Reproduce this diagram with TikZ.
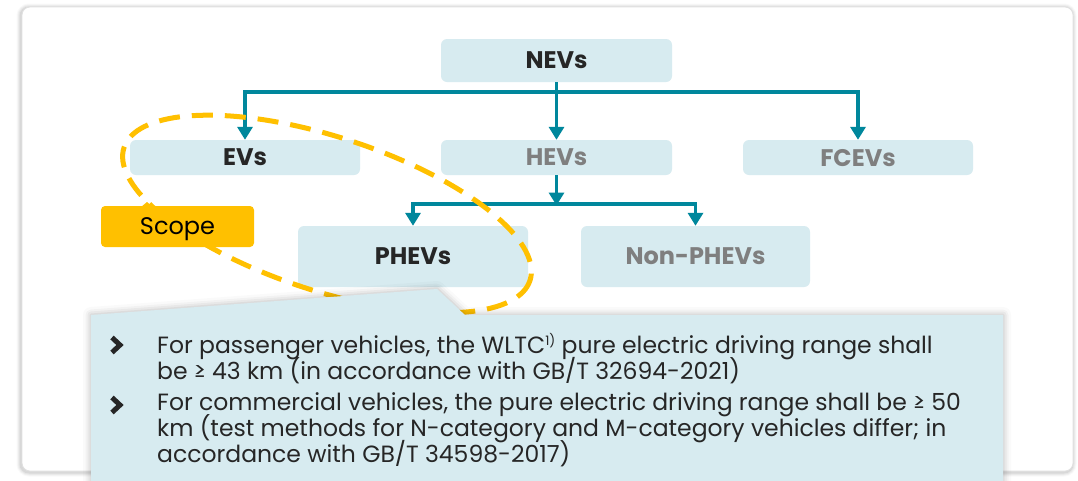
\documentclass[tikz,border=0pt]{standalone}
\usepackage{fontspec}
\setmainfont{Poppins}
\usetikzlibrary{arrows.meta}
\definecolor{boxblue}{HTML}{D7EBF0}
\definecolor{arrteal}{HTML}{00879C}
\definecolor{scopeor}{HTML}{FFC000}
\definecolor{txtdark}{HTML}{262626}
\definecolor{txtgrey}{HTML}{7F7F7F}
\newcommand\mytightlines{\setlength{\lineskiplimit}{-30pt}\setlength{\lineskip}{0pt}}
\tikzset{
  box/.style={fill=boxblue, rounded corners=6pt, inner sep=0pt, text depth=0pt, font=\fontsize{24}{28}\selectfont\bfseries},
  conn/.style={draw=arrteal, line width=3.5pt},
  arr/.style={conn, -{Triangle[width=15pt,length=13pt]}},
  chev/.style={draw=txtdark, line width=5pt},
  bullettext/.style={anchor=base west, align=left, inner sep=0pt, text=txtdark, font=\fontsize{23.5}{26}\selectfont\mytightlines},
}
\begin{document}
\begin{tikzpicture}[x=1pt,y=-1pt]
\useasboundingbox (0,0) rectangle (1078,480);
% outer frame with soft shadow
\foreach \w/\o in {9/0.025,7/0.035,5/0.045,3/0.06}
  \draw[black, opacity=\o, line width=\w pt, rounded corners=8pt] (21,8) rectangle (1072,472);
\draw[fill=white, draw=black!12, line width=0.8pt, rounded corners=8pt] (22,7) rectangle (1073,471);

% boxes
\node[box, minimum width=231pt, minimum height=43pt, text=txtdark] (nev) at (556.5,60.5) {NEVs};
\node[box, minimum width=230pt, minimum height=35pt, text=txtdark] (ev) at (245,157.5) {EVs};
\node[box, minimum width=231pt, minimum height=35pt, text=txtgrey] (hev) at (556.5,157.5) {HEVs};
\node[box, minimum width=230pt, minimum height=35pt, text=txtgrey] (fcev) at (858,157.5) {FCEVs};
\node[box, minimum width=230pt, minimum height=61pt, text=txtdark] (phev) at (413,256.5) {PHEVs};
\node[box, minimum width=229pt, minimum height=61pt, text=txtgrey] (nonphev) at (695.5,256.5) {Non-PHEVs};

% connectors
\coordinate (j1) at (556.5,92);
\coordinate (j2) at (556.5,204);
\draw[arr] (nev.south) -- (hev.north);
\draw[arr] (j1) -| (ev.north);
\draw[arr] (j1) -| (fcev.north);
\draw[arr] (hev.south) -- ([yshift=-1.5pt]j2);
\draw[arr] (j2) -| (phev.north);
\draw[arr] (j2) -| (nonphev.north);

% scope ellipse
\draw[scopeor, line width=5pt, dash pattern=on 21pt off 12pt]
  plot[domain=0:360, samples=145, variable=\t]
  ({327+203*cos(\t)-23.8*sin(\t)},{214+66.4*cos(\t)+73.2*sin(\t)});

% scope label
\node[fill=scopeor, rounded corners=4pt, minimum width=153pt, minimum height=41pt, inner sep=0pt, text depth=0pt,
      font=\fontsize{24}{28}\selectfont, text=black] (scope) at (177.5,226.5) {Scope};
\fill[scopeor] (141,207) -- (147,202) -- (153,207) -- cycle;

% callout
\foreach \w/\o in {16/0.02,11/0.03,7/0.04,3/0.05}
  \draw[black, opacity=\o, line width=\w pt, line join=round] (91,490) -- (91,315) -- (437,289) -- (465,315) -- (1003,315) -- (1003,490);
\fill[boxblue] (91,490) -- (91,315) -- (437,289) -- (465,315) -- (1003,315) -- (1003,490) -- cycle;

% bullets
\draw[chev] (112,337.5) -- (120,345) -- (112,352.5);
\draw[chev] (112,397.5) -- (120,405) -- (112,412.5);
\node[bullettext] (b1) at (157,379) {For passenger vehicles, the WLTC\raisebox{8pt}{\fontsize{13}{13}\selectfont 1)} pure electric driving range shall\\be ≥ 43 km (in accordance with GB/T 32694-2021)};
\node[bullettext] (b2) at (157,462.5) {For commercial vehicles, the pure electric driving range shall be ≥ 50\\km (test methods for N-category and M-category vehicles differ; in\\accordance with GB/T 34598-2017)};
\end{tikzpicture}
\end{document}
